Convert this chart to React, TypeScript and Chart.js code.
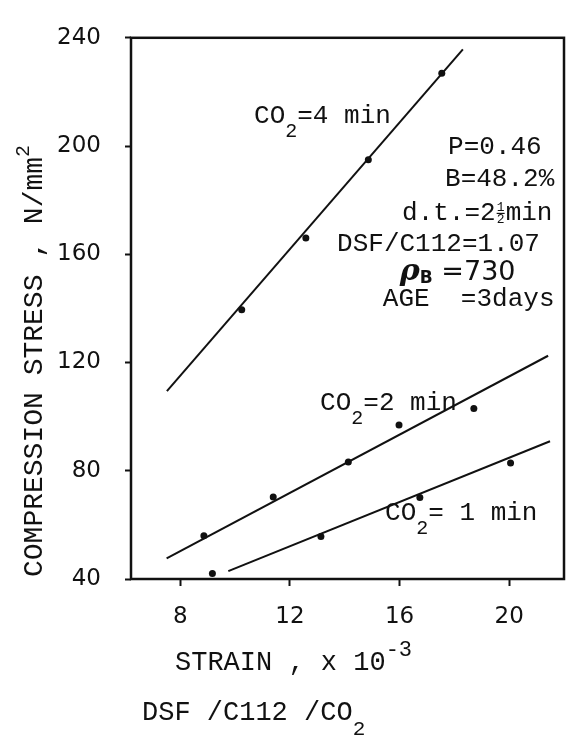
import React, { useEffect, useRef } from "react";
import { Chart, registerables } from "chart.js";

Chart.register(...registerables);

// ---- data ----
const xTicks = [8, 12, 16, 20];
const yTicks = [40, 80, 120, 160, 200, 240];

// CO2 = 4 min
const co2_4_strain = [10.24, 12.58, 14.86, 17.54];
const co2_4_stress = [139.5, 166.0, 194.9, 226.9];
const co2_4_fitStrain = [7.51, 18.31];
const co2_4_fitStress = [109.4, 235.7];

// CO2 = 2 min
const co2_2_strain = [8.86, 11.39, 14.13, 15.98, 18.71];
const co2_2_stress = [56.0, 70.3, 83.2, 96.9, 103.0];
const co2_2_fitStrain = [7.5, 21.42];
const co2_2_fitStress = [47.6, 122.5];

// CO2 = 1 min
const co2_1_strain = [9.17, 13.13, 16.74, 20.05];
const co2_1_stress = [42.0, 55.7, 70.1, 82.9];
const co2_1_fitStrain = [9.75, 21.49];
const co2_1_fitStress = [42.9, 90.9];

const conditionLines = ["P=0.46", "B=48.2%", "DSF/C112=1.07", "AGE  =3days"];
const yTitle = "COMPRESSION STRESS , N/mm";
const xTitle = "STRAIN , x 10";
const xSubTitle = "DSF /C112 /CO";

const pts = (xs: number[], ys: number[]) => xs.map((x, i) => ({ x, y: ys[i] }));

const mono = (s: number) => `${s}px "Liberation Mono", "DejaVu Sans Mono", monospace`;
const INK = "#111";

type Run = [string, string, number];
function drawRuns(ctx: CanvasRenderingContext2D, x: number, y: number, runs: Run[]) {
  let cx = x;
  for (const [t, f, dy] of runs) {
    ctx.font = f;
    ctx.fillText(t, cx, y + dy);
    cx += ctx.measureText(t).width;
  }
  return cx;
}

const textPlugin = {
  id: "paperText",
  afterDraw(chart: any) {
    const { ctx, chartArea: a, scales } = chart;
    const sx = scales.x, sy = scales.y;
    const X = (v: number) => sx.getPixelForValue(v);
    const Y = (v: number) => sy.getPixelForValue(v);
    ctx.save();
    // frame
    ctx.strokeStyle = INK;
    ctx.lineWidth = 2.5;
    ctx.strokeRect(a.left, a.top, a.right - a.left, a.bottom - a.top);

    ctx.fillStyle = INK;
    ctx.textBaseline = "alphabetic";
    ctx.textAlign = "left";

    // curve labels
    drawRuns(ctx, X(10.69), Y(208.5), [["CO", mono(26), 0], ["2", mono(20), 14], ["=4 min", mono(26), 0]]);
    drawRuns(ctx, X(13.1), Y(102.3), [["CO", mono(26), 0], ["2", mono(20), 14], ["=2 min", mono(26), 0]]);
    drawRuns(ctx, X(15.47), Y(61.8), [["CO", mono(26), 0], ["2", mono(20), 14], ["= 1 min", mono(26), 0]]);

    // conditions block
    drawRuns(ctx, X(17.77), Y(197.1), [[conditionLines[0], mono(26), 0]]);
    drawRuns(ctx, X(17.66), Y(185.3), [[conditionLines[1], mono(26), 0]]);
    {
      const bx = X(16.09), by = Y(172.7);
      let cx = drawRuns(ctx, bx, by, [["d.t.=2", mono(26), 0]]);
      ctx.font = mono(13);
      ctx.fillText("1", cx + 1, by - 9);
      ctx.fillText("2", cx + 1, by + 3);
      ctx.lineWidth = 1.2;
      ctx.beginPath();
      ctx.moveTo(cx + 1, by - 6.5);
      ctx.lineTo(cx + 9, by - 6.5);
      ctx.stroke();
      ctx.font = mono(26);
      ctx.fillText("min", cx + 10, by);
    }
    drawRuns(ctx, X(13.72), Y(161.3), [[conditionLines[2], mono(26), 0]]);
    drawRuns(ctx, X(16.01), Y(150.6), [
      ["ρ", 'italic bold 30px "DejaVu Serif", serif', 0],
      ["B", 'bold 17px "DejaVu Sans", sans-serif', 3],
      [" =730", '27px "DejaVu Sans", sans-serif', 0],
    ]);
    drawRuns(ctx, X(15.39), Y(140.9), [[conditionLines[3], mono(26), 0]]);

    // x-axis titles
    drawRuns(ctx, 175, 670, [[xTitle, mono(27), 0], ["-3", mono(22), -14]]);
    drawRuns(ctx, 142, 720, [[xSubTitle, mono(27), 0], ["2", mono(21), 15]]);

    // y-axis title (rotated)
    ctx.translate(42, 577);
    ctx.rotate(-Math.PI / 2);
    drawRuns(ctx, 0, 0, [[yTitle, mono(28), 0], ["2", mono(20), -13]]);
    ctx.restore();
  },
};

export default function App() {
  const ref = useRef<HTMLCanvasElement | null>(null);

  useEffect(() => {
    if (!ref.current) return;
    const scatter = (xs: number[], ys: number[]) => ({
      type: "scatter" as const,
      data: pts(xs, ys),
      pointRadius: 3.5,
      pointBackgroundColor: INK,
      pointBorderColor: INK,
      pointBorderWidth: 0,
      showLine: false,
    });
    const fit = (xs: number[], ys: number[]) => ({
      type: "line" as const,
      data: pts(xs, ys),
      borderColor: INK,
      borderWidth: 2,
      pointRadius: 0,
      fill: false,
      tension: 0,
    });
    const tickFont = { family: '"DejaVu Sans", sans-serif', size: 23 };
    const chart = new Chart(ref.current, {
      type: "scatter",
      data: {
        datasets: [
          fit(co2_4_fitStrain, co2_4_fitStress),
          scatter(co2_4_strain, co2_4_stress),
          fit(co2_2_fitStrain, co2_2_fitStress),
          scatter(co2_2_strain, co2_2_stress),
          fit(co2_1_fitStrain, co2_1_fitStress),
          scatter(co2_1_strain, co2_1_stress),
        ] as any,
      },
      options: {
        animation: false,
        responsive: false,
        events: [],
        layout: { padding: { top: 20, right: 5, left: 0, bottom: 0 } },
        plugins: { legend: { display: false }, tooltip: { enabled: false }, title: { display: false } },
        scales: {
          x: {
            type: "linear",
            min: 6.2,
            max: 22,
            afterBuildTicks: (s: any) => { s.ticks = xTicks.map((v) => ({ value: v })); },
            afterFit: (s: any) => { s.height = 161; },
            border: { display: false },
            grid: { drawOnChartArea: false, drawTicks: true, tickLength: 7, tickColor: INK, tickWidth: 2 },
            ticks: { color: INK, font: tickFont, padding: 17, maxRotation: 0 },
          },
          y: {
            type: "linear",
            min: 40,
            max: 240,
            afterBuildTicks: (s: any) => { s.ticks = yTicks.map((v) => ({ value: v })); },
            afterFit: (s: any) => { s.width = 131; },
            border: { display: false },
            grid: { drawOnChartArea: false, drawTicks: true, tickLength: 6, tickColor: INK, tickWidth: 2 },
            ticks: { color: INK, font: tickFont, padding: 24 },
          },
        },
      },
      plugins: [textPlugin],
    });
    return () => chart.destroy();
  }, []);

  return (
    <div style={{ position: "absolute", left: 0, top: 0, width: 569, height: 740, background: "#fff" }}>
      <canvas ref={ref} width={569} height={740} style={{ display: "block" }} />
    </div>
  );
}
